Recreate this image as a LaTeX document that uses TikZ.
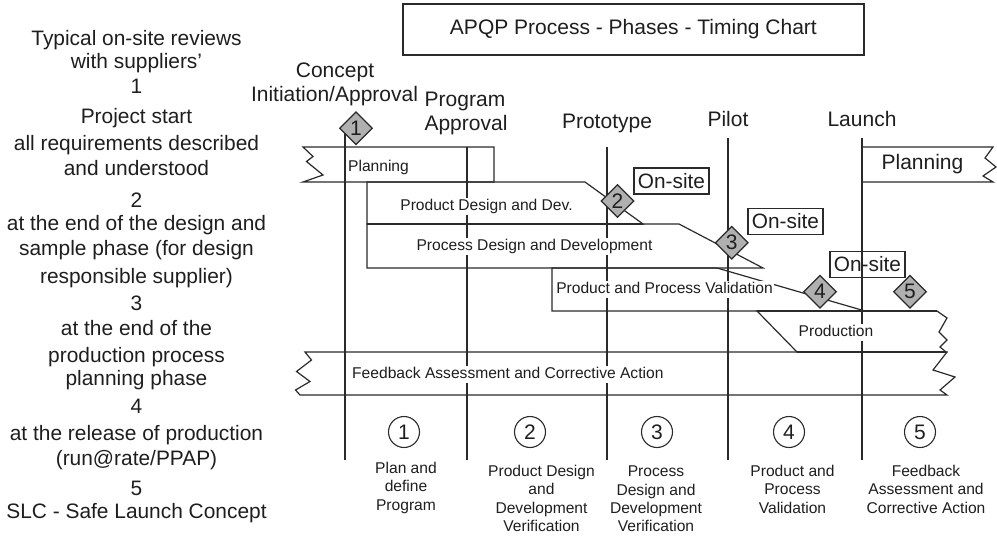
\documentclass[tikz,border=0pt]{standalone}
\usepackage{fontspec}
\setmainfont{Liberation Sans}
\usetikzlibrary{shapes.geometric}
\definecolor{lc}{HTML}{2A2A2A}
\definecolor{tc}{HTML}{1E1E1E}
\definecolor{dg}{HTML}{B0B0B0}
\begin{document}
\begin{tikzpicture}[x=1pt,y=-1pt,
  ln/.style={line width=1.2pt, draw=lc, line join=miter},
  thk/.style={line width=1.9pt, draw=lc},
  txt/.style={text=tc, inner sep=0pt},
  bandtxt/.style={text=tc, fill=white, inner sep=1.2pt, text height=11.4pt, text depth=3.2pt, font=\fontsize{15.6}{18}\selectfont},
  dia/.style={diamond, aspect=1, draw=lc, line width=1.2pt, fill=dg, minimum width=33pt, minimum height=33pt, inner sep=0pt, font=\fontsize{21}{24}\selectfont, text=tc},
  circ/.style={circle, draw=lc, line width=1.1pt, minimum size=31pt, inner sep=0pt, font=\fontsize{21}{24}\selectfont, text=tc},
  onsite/.style={draw=lc, line width=1.2pt, minimum width=75pt, minimum height=26pt, inner sep=0pt, font=\fontsize{20.8}{24}\selectfont, text=tc},
  big/.style={txt, font=\fontsize{21}{25}\selectfont},
  left/.style={txt, anchor=base, font=\fontsize{20.9}{25}\selectfont},
  lab/.style={txt, anchor=north, align=center, font=\fontsize{15.6}{18.3}\selectfont}]
\useasboundingbox (0,0) rectangle (997,536);

% title
\node[draw=lc, line width=1.2pt, minimum width=461pt, minimum height=51pt, inner sep=0pt, font=\fontsize{21}{25}\selectfont, text=tc] (title) at (633.4,29.5) {APQP Process - Phases - Timing Chart};

% left column
\foreach \yy/\txt [count=\i] in {45/{Typical on-site reviews}, 68/{with suppliers'}, 93/1, 123/{Project start}, 150/{all requirements described}, 175/{and understood}, 207/2, 230/{at the end of the design and}, 255/{sample phase (for design}, 283/{responsible supplier)}, 310/3, 335/{at the end of the}, 362/{production process}, 385/{planning phase}, 413/4, 440/{at the release of production}, 465/{(run@rate/PPAP)}, 495/5, 518/{SLC - Safe Launch Concept}}
  \node[left] (L\i) at (136.5,\yy) {\txt};

% milestone labels
\node[big, anchor=base] (mConcept) at (335,77) {Concept};
\node[big, anchor=base] (mInit) at (334.5,101) {Initiation/Approval};
\node[big, anchor=base] (mProg) at (465,106) {Program};
\node[big, anchor=base] (mAppr) at (466,130) {Approval};
\node[big, anchor=base] (mProto) at (607,128) {Prototype};
\node[big, anchor=base] (mPilot) at (728,126) {Pilot};
\node[big, anchor=base] (mLaunch) at (862,126) {Launch};

% vertical milestone lines
\draw[ln] (345,130) -- (345,460);
\draw[ln] (467,147) -- (467,460);
\draw[ln] (607,147) -- (607,460);
\draw[ln] (728,138) -- (728,460);
\draw[ln] (862,138) -- (862,460);

% bands
\draw[ln] (303,147) -- (494,147) -- (494,182) -- (303,182) -- (323,175) -- (306.5,161.5) -- (313,156.5) -- cycle;
\draw[ln] (367,182) -- (585,182) -- (643,224) -- (367,224) -- cycle;
\draw[ln] (367,224) -- (679,224) -- (763,268) -- (367,268) -- cycle;
\draw[ln] (552,268) -- (717,268) -- (865,311) -- (552,311) -- cycle;
\draw[ln] (757,311) -- (937,311) -- (947,318) -- (939,332) -- (947,340) -- (940,347) -- (946,352) -- (797,352) -- cycle;
\draw[ln] (305,352) -- (947,352) -- (933,370) -- (955,377) -- (940,390) -- (947,395) -- (300,395) -- (295.5,390) -- (310,381.5) -- (296.5,371.5) -- (311.5,360) -- cycle;
\draw[ln] (862,147) -- (993,147) -- (985,158) -- (996,167) -- (983,176) -- (993,182) -- (862,182) -- cycle;
\draw[thk] (367,224) -- (643,224);
\draw[thk] (757,311) -- (937,311);
\draw[thk] (797,352) -- (946,352);
\draw[thk] (862,147) -- (862,182);

% band texts
\node[bandtxt] (tPlan) at (378.5,167) {Planning};
\node[bandtxt] (tPD) at (486.5,206) {Product Design and Dev.};
\node[bandtxt] (tPrD) at (534.5,246.5) {Process Design and Development};
\node[bandtxt] (tVal) at (664.5,289) {Product and Process Validation};
\node[bandtxt] (tProd) at (836,332.5) {Production};
\node[bandtxt, anchor=west] (tFb) at (350.8,374.5) {Feedback Assessment and Corrective Action};
\node[big] (tPlan2) at (922.5,164) {Planning};

% on-site boxes
\node[onsite] (os1) at (671.5,181) {On-site};
\node[onsite] (os2) at (785.5,221.5) {On-site};
\node[onsite] (os3) at (867.5,264.5) {On-site};

% diamonds
\node[dia] (d1) at (356,128.3) {1};
\node[dia] (d2) at (617.5,201) {2};
\node[dia] (d3) at (731.7,242.7) {3};
\node[dia] (d4) at (820,291.7) {4};
\node[dia] (d5) at (910,291.7) {5};

% phase circles
\node[circ] (c1) at (404,432) {1};
\node[circ] (c2) at (530,432) {2};
\node[circ] (c3) at (657,432) {3};
\node[circ] (c4) at (789,432) {4};
\node[circ] (c5) at (920,432) {5};

% phase labels
\node[lab] (p1) at (406,462) {Plan and\\define\\Program};
\node[lab] (p2) at (541.5,465) {Product Design\\and\\Development\\Verification};
\node[lab] (p3) at (656,466) {Process\\Design and\\Development\\Verification};
\node[lab] (p4) at (792.5,465) {Product and\\Process\\Validation};
\node[lab] (p5) at (926,465) {Feedback\\Assessment and\\Corrective Action};
\end{tikzpicture}
\end{document}
